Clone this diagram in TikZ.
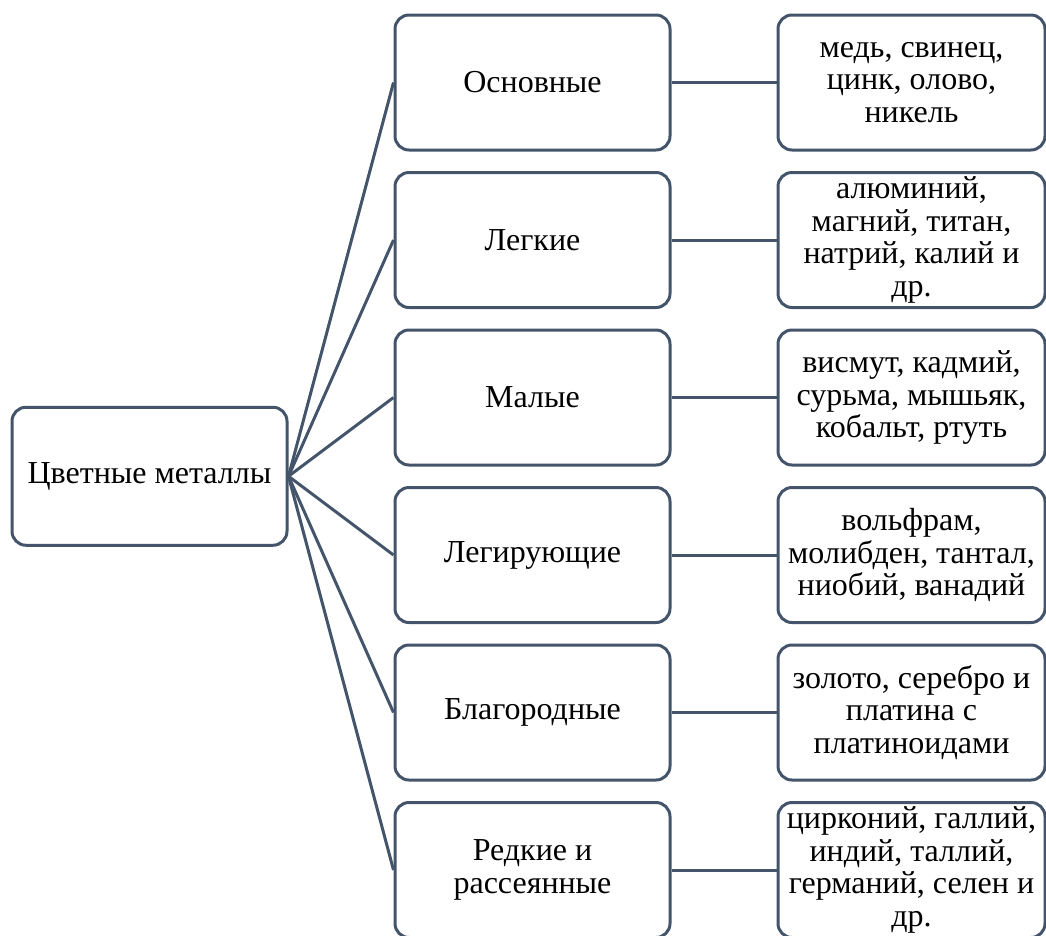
\documentclass[tikz,border=0pt]{standalone}
\usepackage{fontspec}
\setmainfont{Liberation Serif}
\usepackage{xcolor}
\usetikzlibrary{positioning, calc}
\definecolor{slate}{HTML}{44546A}
\tikzset{
  block/.style={rectangle, rounded corners=14pt, draw=slate, line width=3pt,
                fill=white, text=black, font=\fontsize{32}{32.5}\selectfont,
                minimum width=#1, minimum height=135pt,
                inner sep=0pt, align=center},
  block/.default=275pt,
  conn/.style={draw=slate, line width=3pt},
}

\begin{document}
\begin{tikzpicture}[x=1pt, y=1pt, node distance=19.5pt and 105pt]
  \useasboundingbox (0,0) rectangle (1046,-935);
  %% Middle column: groups
  \node[block] (m1) at (532.5,-82.5) {Основные};
  \node[block, below=of m1] (m2) {Легкие};
  \node[block, below=of m2] (m3) {Малые};
  \node[block, below=of m3] (m4) {Легирующие};
  \node[block, below=of m4] (m5) {Благородные};
  \node[block, below=of m5] (m6) {Редкие и\\рассеянные};
  %% Right column: examples
  \node[block=267pt, right=of m1] (r1) {медь, свинец,\\цинк, олово,\\никель};
  \node[block=267pt, right=of m2] (r2) {алюминий,\\магний, титан,\\натрий, калий и\\др.};
  \node[block=267pt, right=of m3] (r3) {висмут, кадмий,\\сурьма, мышьяк,\\кобальт, ртуть};
  \node[block=267pt, right=of m4] (r4) {вольфрам,\\молибден, тантал,\\ниобий, ванадий};
  \node[block=267pt, right=of m5] (r5) {золото, серебро и\\платина с\\платиноидами};
  \node[block=267pt, right=of m6] (r6) {цирконий, галлий,\\индий, таллий,\\германий, селен и\\др.};
  %% Root
  \coordinate (mid) at ($(m1.west)!0.5!(m6.west)$);
  \node[block, minimum height=138pt, left=of mid] (root) {Цветные металлы};
  \foreach \i in {1,...,6} {
    \draw[conn] (root.east) -- (m\i.west);
    \draw[conn] (m\i.east) -- (r\i.west);
  }
\end{tikzpicture}
\end{document}
